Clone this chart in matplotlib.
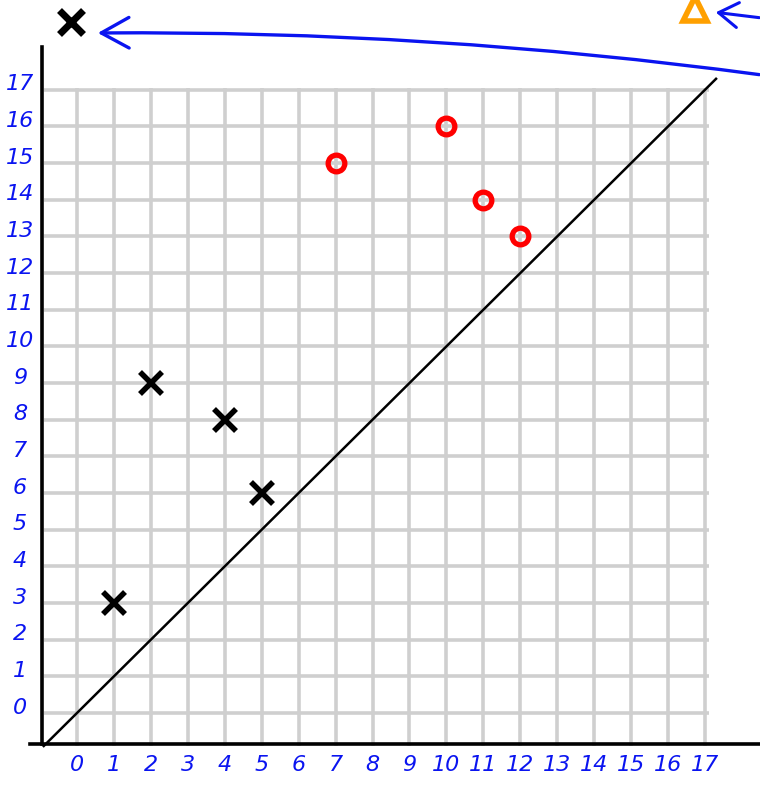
import matplotlib
matplotlib.use('Agg')
import matplotlib.pyplot as plt
import numpy as np

# grid / tick values
ticks = list(range(0, 18))
tick_labels = [str(t) for t in ticks]

# the two sets of points
cross_x = [1, 2, 4, 5]
cross_y = [3, 9, 8, 6]
circle_x = [7, 10, 11, 12]
circle_y = [15, 16, 14, 13]

# diagonal y = x
diag = [-0.9, 17.3]

BLUE = '#0a14f0'
GRID = '#cfcfcf'

fig = plt.figure(figsize=(7.6, 7.92), dpi=100)
ax = fig.add_axes([0, 0, 1, 1])
ax.set_xlim(-2.084, 18.49)
ax.set_ylim(-2.155, 19.45)
ax.axis('off')

# grid lines, from the axes up to 17
ax.vlines(ticks, -0.9, 17.05, color=GRID, lw=2.6, zorder=1)
ax.hlines(ticks, -0.9, 17.1, color=GRID, lw=2.6, zorder=1)

# hand drawn axes
ax.plot([-0.95, -0.95], [-0.85, 18.17], color='black', lw=2.6, zorder=3)
ax.plot([-1.27, 18.49], [-0.85, -0.85], color='black', lw=2.6, zorder=3)

# y = x line
ax.plot(diag, diag, color='black', lw=1.8, zorder=2)

ax.plot(cross_x, cross_y, 'x', color='black', ms=16, mew=4, zorder=4)
ax.plot(circle_x, circle_y, 'o', color='#ff0000', mfc='none', ms=12, mew=3.8, zorder=4)

for t, lab in zip(ticks, tick_labels):
    ax.text(t, -1.42, lab, color=BLUE, fontsize=16, style='italic',
            ha='center', va='center')
    ax.text(-1.54, t + 0.15, lab, color=BLUE, fontsize=16, style='italic',
            ha='center', va='center')

# legend-ish sketch at the top: x marker and triangle, each with an arrow
H = 792
ax.plot([-0.17], [18.85], 'x', color='black', ms=17, mew=5,
        clip_on=False, zorder=5)
ax.annotate('', xy=(95, H - 33), xycoords='figure pixels',
            xytext=(762, H - 75), textcoords='figure pixels',
            arrowprops=dict(arrowstyle='->,head_length=1.0,head_width=0.55',
                            color=BLUE, lw=2.4, mutation_scale=20,
                            connectionstyle='arc3,rad=0.036'))
ax.plot([16.73], [19.2], '^', color='#ffa000', mfc='none', ms=17, mew=4,
        clip_on=False, zorder=5)
ax.annotate('', xy=(713, H - 12), xycoords='figure pixels',
            xytext=(762, H - 18), textcoords='figure pixels',
            arrowprops=dict(arrowstyle='->,head_length=0.7,head_width=0.45',
                            color=BLUE, lw=2.2, mutation_scale=20))

fig.savefig('out.png', dpi=100)
